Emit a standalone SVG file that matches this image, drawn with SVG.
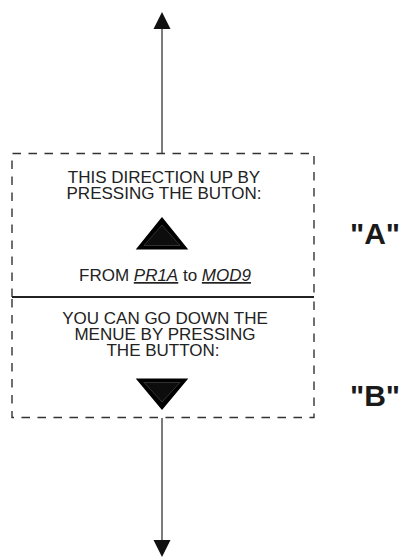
<svg xmlns="http://www.w3.org/2000/svg" width="408" height="559" viewBox="0 0 408 559">
<style>
.t{font-family:"Liberation Sans",Arial,sans-serif;font-size:17px;fill:#222;text-anchor:middle}
.lab{font-family:"Liberation Sans",Arial,sans-serif;font-size:30px;font-weight:bold;fill:#1a1a1a;text-anchor:middle}
.dash{fill:none;stroke:#333;stroke-width:1.4;stroke-dasharray:8.5 7.5}
.conn{stroke:#444;stroke-width:1.4;fill:none}
.u{font-style:italic;text-decoration:underline}
.tri{fill:#000;stroke:#000;stroke-width:1.2;stroke-linejoin:miter}
.inner{fill:#0d0d0d;stroke:#3c3c3c;stroke-width:0.8}
</style>
<g id="connectors">
<line class="conn" x1="162" y1="28" x2="162" y2="154"/>
<polygon points="162,12 153.5,29 170.5,29" fill="#111"/>
<line class="conn" x1="162" y1="418" x2="162" y2="541"/>
<polygon points="162,557 153.5,540 170.5,540" fill="#111"/>
</g>
<g id="nodeA">
<path class="dash" d="M12,297 V153.5 H314 V297"/>
<line x1="12" y1="297" x2="314" y2="297" stroke="#222" stroke-width="2.2"/>
<text class="t" x="164" y="182.5">THIS DIRECTION UP BY</text>
<text class="t" x="164" y="198.5">PRESSING THE BUTON:</text>
<polygon class="tri" points="162,218 137,249 187,249"/>
<polygon class="inner" points="162,225 144,245.5 180,245.5"/>
<text class="t" x="165" y="281">FROM <tspan class="u">PR1A</tspan> to <tspan class="u">MOD9</tspan></text>
</g>
<g id="nodeB">
<path class="dash" d="M12,299 V417.5 H314 V299"/>
<text class="t" x="165" y="323.5">YOU CAN GO DOWN THE</text>
<text class="t" x="165" y="339.5">MENUE BY PRESSING</text>
<text class="t" x="163" y="355.5">THE BUTTON:</text>
<polygon class="tri" points="137,379 187,379 162,409"/>
<polygon class="inner" points="144,382.5 180,382.5 162,402"/>
</g>
<g id="labelA"><text class="lab" x="375" y="244">"A"</text></g>
<g id="labelB"><text class="lab" x="375" y="406">"B"</text></g>
</svg>
